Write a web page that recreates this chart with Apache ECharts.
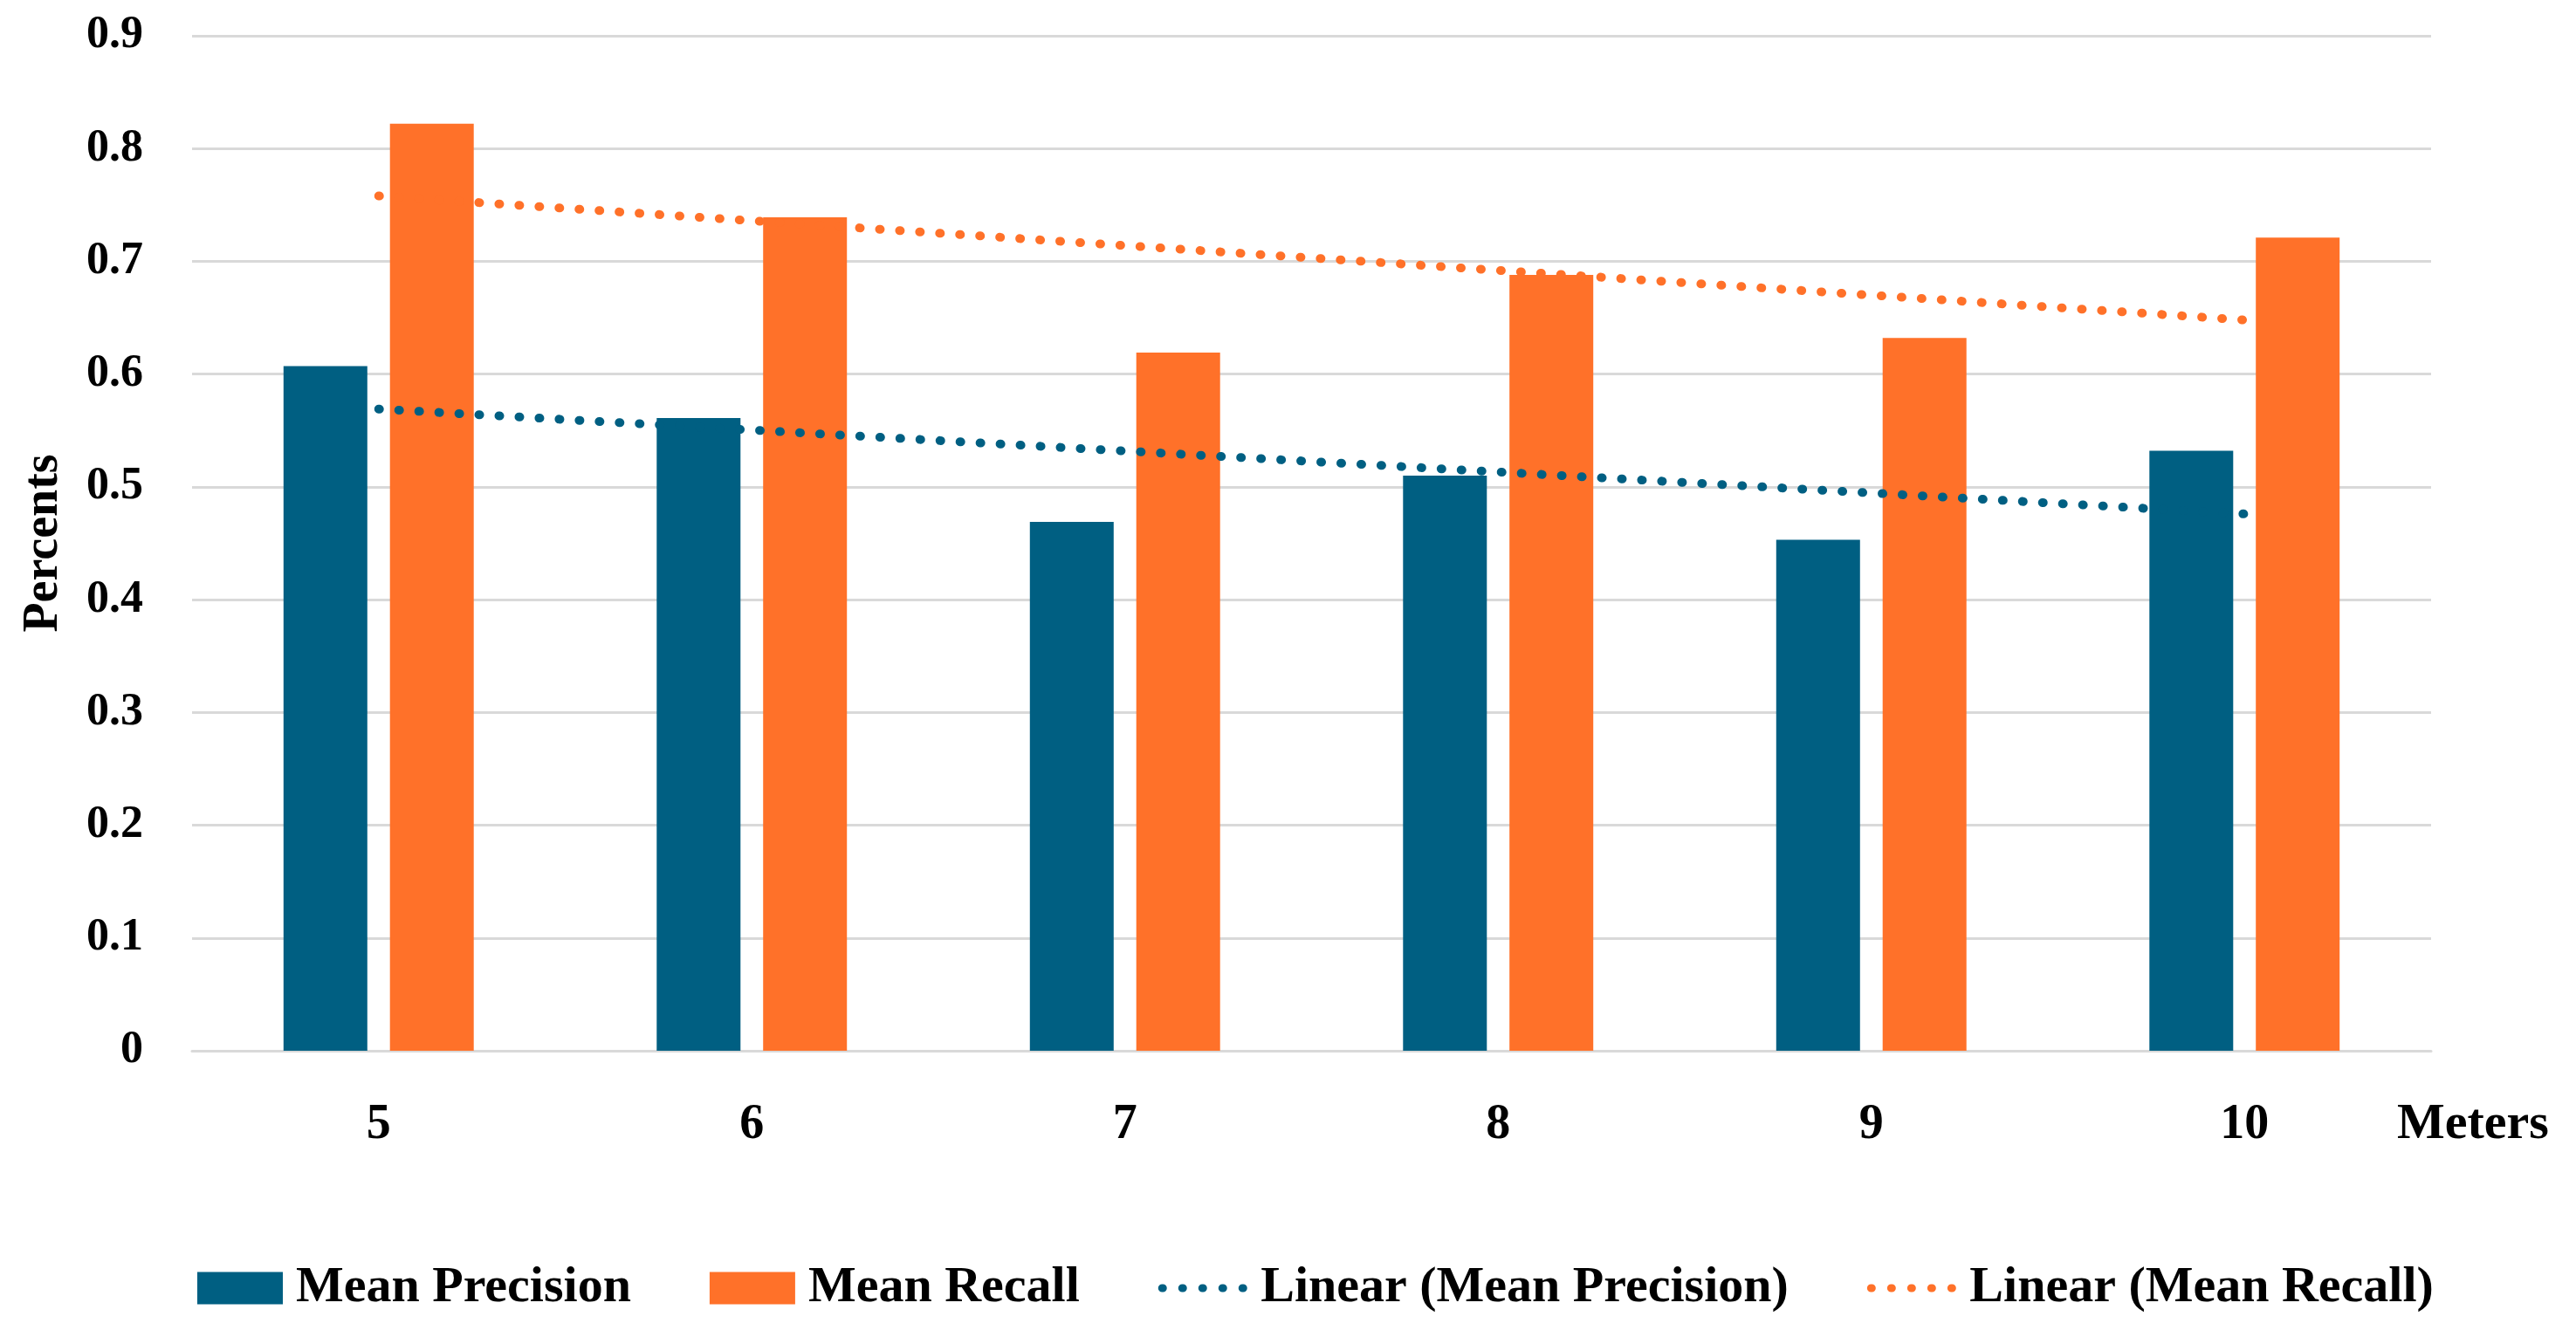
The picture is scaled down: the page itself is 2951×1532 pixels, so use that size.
<!DOCTYPE html>
<html>
<head>
<meta charset="utf-8">
<script src="https://cdn.jsdelivr.net/npm/echarts@6/dist/echarts.min.js"></script>
<style>
html,body{margin:0;padding:0;background:#fff;}
#chart{width:2951px;height:1532px;}
</style>
</head>
<body>
<div id="chart"></div>
<script>
// ---- data ----
const categories = ['5', '6', '7', '8', '9', '10'];
const meanPrecision = [0.607, 0.561, 0.469, 0.510, 0.453, 0.532];
const meanRecall = [0.822, 0.739, 0.619, 0.688, 0.632, 0.721];
// trend lines: values read at the first and last category (5 m and 10 m)
const trendPrecision = [0.569, null, null, null, null, 0.476];
const trendRecall = [0.758, null, null, null, null, 0.648];
const yTicks = { min: 0, max: 0.9, interval: 0.1 };
const xAxisTitle = 'Meters';
const yAxisTitle = 'Percents';

const BLUE = '#005f82';
const ORANGE = '#ff7129';
const FONT = "'Liberation Serif', 'Times New Roman', serif";

const chart = echarts.init(document.getElementById('chart'));
chart.setOption({
  animation: false,
  backgroundColor: '#ffffff',
  textStyle: { fontFamily: FONT },
  title: {
    text: xAxisTitle,
    left: 2746,
    top: 1260,
    padding: 0,
    textStyle: { fontFamily: FONT, fontWeight: 'bold', fontSize: 58, color: '#000', lineHeight: 58 }
  },
  grid: { left: 220, right: 166, top: 41, bottom: 328, containLabel: false, outerBoundsMode: 'none' },
  legend: {
    bottom: 22,
    left: 221,
    itemWidth: 98,
    itemHeight: 37,
    itemGap: 90,
    lineStyle: { width: 9, cap: 'round', type: [1, 22] },
    textStyle: { fontFamily: FONT, fontWeight: 'bold', fontSize: 58, color: '#000', padding: [0, 0, 0, 10] },
    data: [
      { name: 'Mean Precision', icon: 'rect' },
      { name: 'Mean Recall', icon: 'rect' },
      { name: 'Linear (Mean Precision)', itemStyle: { opacity: 0 } },
      { name: 'Linear (Mean Recall)', itemStyle: { opacity: 0 } }
    ]
  },
  xAxis: {
    type: 'category',
    data: categories,
    axisLine: { show: true, lineStyle: { color: '#d9d9d9', width: 3 } },
    axisTick: { show: false },
    axisLabel: { margin: 58, fontFamily: FONT, fontWeight: 'bold', fontSize: 56, color: '#000' }
  },
  yAxis: {
    type: 'value',
    min: yTicks.min,
    max: yTicks.max,
    interval: yTicks.interval,
    name: yAxisTitle,
    nameLocation: 'middle',
    nameGap: 141,
    nameTextStyle: { fontFamily: FONT, fontWeight: 'bold', fontSize: 56, color: '#000' },
    axisLine: { show: false },
    axisTick: { show: false },
    splitLine: { lineStyle: { color: '#d9d9d9', width: 3 } },
    axisLabel: { margin: 56, fontFamily: FONT, fontWeight: 'bold', fontSize: 52, color: '#000' }
  },
  series: [
    {
      name: 'Mean Precision', type: 'bar', data: meanPrecision,
      barWidth: 96, barGap: '27%',
      itemStyle: { color: BLUE }
    },
    {
      name: 'Mean Recall', type: 'bar', data: meanRecall,
      barWidth: 96, barGap: '27%',
      itemStyle: { color: ORANGE }
    },
    {
      name: 'Linear (Mean Precision)', type: 'line', data: trendPrecision,
      connectNulls: true, symbol: 'none', z: 5,
      itemStyle: { color: BLUE },
      lineStyle: { color: BLUE, width: 10, type: [1, 22], cap: 'round' }
    },
    {
      name: 'Linear (Mean Recall)', type: 'line', data: trendRecall,
      connectNulls: true, symbol: 'none', z: 5,
      itemStyle: { color: ORANGE },
      lineStyle: { color: ORANGE, width: 10, type: [1, 22], cap: 'round' }
    }
  ]
});
</script>
</body>
</html>
